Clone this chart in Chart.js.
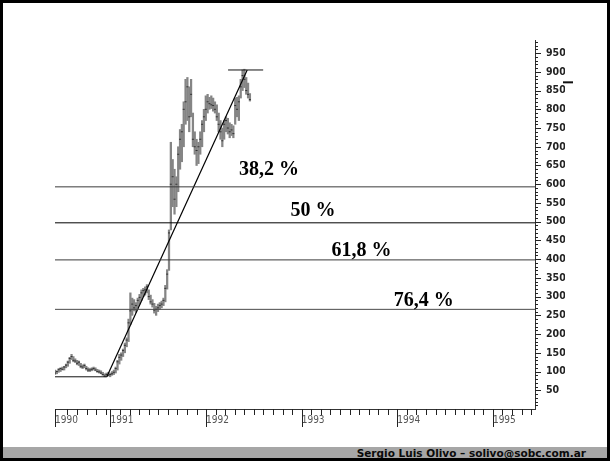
<!DOCTYPE html>
<html>
<head>
<meta charset="utf-8">
<title>Retrocesos de Fibonacci</title>
<script src="https://cdn.jsdelivr.net/npm/chart.js@4.4.1/dist/chart.umd.min.js"></script>
<style>
  html, body { margin: 0; padding: 0; background: #fff; }
  #slide { position: relative; width: 610px; height: 461px; overflow: hidden; background: #fff; }
  #chart { position: absolute; left: 0; top: 0; }
  #footer {
    position: absolute; left: 0; right: 0; top: 447px; height: 12px;
    background: #a6a6a6; color: #0a0a0a; text-align: right; padding-right: 24px;
    font: bold 10.5px "DejaVu Sans", Verdana, sans-serif; line-height: 12px; white-space: nowrap;
  }
  #frame { position: absolute; inset: 0; border: 3px solid #000; box-sizing: border-box; pointer-events: none; }
</style>
</head>
<body>
<div id="slide">
  <canvas id="chart" width="610" height="461"></canvas>
  <div id="footer">Sergio Luis Olivo – solivo@sobc.com.ar</div>
  <div id="frame"></div>
</div>
<script>
// --- data (weekly bars) ---
const firstWeek = 1990.42;           // decimal year of the first weekly bar
const weekLows = [
  92, 94, 98, 100, 104, 104, 110, 114, 122, 132,
  126, 124, 118, 116, 110, 108, 110, 104, 100, 100,
  102, 104, 102, 98, 96, 94, 90, 86, 86, 88,
  86, 90, 92, 96, 104, 120, 130, 140, 150, 166,
  180, 226, 250, 262, 258, 270, 280, 290, 300, 304,
  310, 292, 280, 272, 256, 250, 260, 266, 270, 276,
  286, 320, 370, 478, 540, 520, 540, 580, 640, 660,
  700, 760, 770, 740, 780, 700, 680, 650, 655, 680,
  700, 740, 770, 790, 800, 802, 795, 790, 770, 740,
  720, 700, 720, 740, 734, 724, 730, 724, 760, 780,
  770, 830, 850, 858, 840, 830, 822
];
const weekHighs = [
  104, 102, 108, 110, 112, 114, 120, 128, 138, 146,
  140, 134, 130, 128, 122, 118, 120, 114, 110, 108,
  110, 112, 110, 106, 104, 102, 98, 94, 96, 98,
  96, 100, 104, 112, 130, 146, 150, 160, 176, 190,
  240, 310, 296, 292, 284, 296, 306, 318, 322, 326,
  332, 318, 304, 292, 282, 274, 280, 284, 288, 296,
  330, 372, 478, 712, 666, 640, 620, 700, 746, 760,
  820, 880, 885, 860, 880, 790, 740, 720, 712, 740,
  770, 800, 836, 840, 832, 836, 830, 820, 812, 790,
  770, 750, 770, 780, 776, 764, 760, 756, 830, 832,
  836, 880, 905, 907, 885, 870, 842
];
const weekCloses = [
  96, 100, 105, 108, 106, 112, 117, 125, 135, 140,
  130, 128, 122, 125, 114, 112, 116, 108, 104, 104,
  106, 108, 104, 100, 99, 96, 92, 88, 92, 90,
  92, 94, 98, 108, 126, 138, 144, 156, 170, 184,
  230, 262, 280, 270, 276, 290, 298, 310, 316, 318,
  326, 300, 286, 280, 264, 266, 270, 276, 280, 290,
  322, 360, 470, 600, 620, 560, 600, 680, 720, 740,
  800, 820, 860, 780, 840, 720, 700, 690, 700, 720,
  760, 780, 800, 820, 815, 812, 810, 800, 780, 760,
  740, 716, 760, 770, 750, 740, 745, 735, 810, 800,
  820, 860, 890, 880, 850, 840, 826
];
const years = [1990, 1991, 1992, 1993, 1994, 1995];
const fibLevels = [593, 497, 398, 266];
const fibLabels = ['38,2 %', '50 %', '61,8 %', '76,4 %'];
const trendStart = { x: 1990.962, y: 86 };
const trendEnd = { x: 1992.43, y: 905 };
const lowLine = [1990.42, 1990.962];   // bottom reference line span
const topLine = [1992.23, 1992.597];   // top reference line span
const lastMark = 872;

// --- layout ---
const xMin = 1990.42, xMax = 1995.44;
const labelAt = [[1992.345, 638], [1992.883, 530], [1993.313, 423], [1993.963, 289]];
const fibColors = ['#3a3a3a', '#000', '#3a3a3a', '#4a4a4a'];

const xTicks = [xMin, 1990.55, 1990.65, 1990.75, 1990.85, 1990.95];
for (let yr = 1991; yr <= 1995; yr++) {
  for (let k = 0; k < 10; k++) {
    const v = +(yr + k / 10).toFixed(2);
    if (v < xMax) xTicks.push(v);
  }
}
const isYearTick = v => v === xMin || Number.isInteger(v);

function hLine(y, x0, x1, color, width) {
  return {
    type: 'line', data: [{ x: x0, y: y }, { x: x1, y: y }],
    borderColor: color, borderWidth: width, pointRadius: 0, order: 0
  };
}

const datasets = [
  {
    type: 'bar',
    data: weekLows.map((lo, i) => ({ x: firstWeek + i / 52, y: [lo, weekHighs[i]] })),
    backgroundColor: '#858585', barThickness: 1.6, order: 3
  },
  {
    type: 'line', showLine: false,
    data: weekCloses.map((c, i) => ({ x: firstWeek + i / 52, y: c })),
    pointStyle: 'line', pointRadius: 1, borderColor: '#333', borderWidth: 1, order: 2
  }
];
fibLevels.forEach((lvl, i) => datasets.push(hLine(lvl, xMin, xMax, fibColors[i], 1)));
datasets.push(hLine(trendStart.y, lowLine[0], lowLine[1], '#111', 1));
datasets.push(hLine(trendEnd.y, topLine[0], topLine[1], '#111', 1));
datasets.push({
  type: 'line', data: [trendStart, trendEnd],
  borderColor: '#000', borderWidth: 1.2, pointRadius: 0, order: 0
});

// tick marks: long at years / labelled prices, short in between
const tickMarks = {
  id: 'tickMarks',
  afterDraw(chart) {
    const { ctx, scales: { x, y } } = chart;
    ctx.save();
    ctx.strokeStyle = '#222';
    ctx.lineWidth = 1;
    ctx.beginPath();
    x.ticks.forEach(t => {
      const px = Math.round(x.getPixelForValue(t.value)) + 0.5;
      ctx.moveTo(px, x.top);
      ctx.lineTo(px, x.top + (isYearTick(t.value) ? 18 : 6));
    });
    y.ticks.forEach(t => {
      const py = Math.round(y.getPixelForValue(t.value)) + 0.5;
      ctx.moveTo(y.left, py);
      ctx.lineTo(y.left + (t.value % 50 === 0 ? 6 : 3), py);
    });
    ctx.stroke();
    ctx.restore();
  }
};

const fibText = {
  id: 'fibText',
  afterDatasetsDraw(chart) {
    const { ctx, scales: { x, y } } = chart;
    ctx.save();
    ctx.font = 'bold 20px "Liberation Serif", "Times New Roman", serif';
    ctx.fillStyle = '#000';
    ctx.textBaseline = 'middle';
    fibLabels.forEach((t, i) => {
      ctx.fillText(t, x.getPixelForValue(labelAt[i][0]), y.getPixelForValue(labelAt[i][1]));
    });
    // last price mark beside the price axis
    ctx.fillStyle = '#111';
    ctx.fillRect(y.left + 28, y.getPixelForValue(lastMark) - 1, 10, 2);
    ctx.restore();
  }
};

const narrow = '"Liberation Sans Narrow", "Arial Narrow", "DejaVu Sans Condensed", sans-serif';

new Chart(document.getElementById('chart'), {
  type: 'bar',
  data: { datasets },
  plugins: [fibText, tickMarks],
  options: {
    responsive: false,
    animation: false,
    devicePixelRatio: 1,
    layout: { padding: { left: 55, top: 40, right: 45, bottom: 30 } },
    plugins: { legend: { display: false }, tooltip: { enabled: false } },
    scales: {
      x: {
        type: 'linear', position: 'bottom', min: xMin, max: xMax, offset: false,
        afterBuildTicks: s => { s.ticks = xTicks.map(v => ({ value: v })); },
        afterFit: s => { s.height = 22; },
        ticks: {
          autoSkip: false, maxRotation: 0, align: 'start', padding: 0, color: '#555',
          font: { family: narrow, size: 10 },
          callback: v => (v === xMin ? String(years[0]) : Number.isInteger(v) ? String(v) : '')
        },
        grid: { offset: false, drawOnChartArea: false, tickLength: 5, tickColor: 'rgba(0,0,0,0)' },
        border: { color: '#333', width: 1 }
      },
      y: {
        type: 'linear', position: 'right', min: 0, max: 985,
        afterBuildTicks: s => {
          const t = [];
          for (let v = 10; v <= 980; v += 10) t.push({ value: v });
          s.ticks = t;
        },
        afterFit: s => { s.width = 30; },
        ticks: {
          autoSkip: false, padding: 8, color: '#222',
          font: { family: narrow, size: 10.5, weight: 'bold' },
          callback: v => (v % 50 === 0 ? String(v) : '')
        },
        grid: { drawOnChartArea: false, tickLength: 3, tickColor: 'rgba(0,0,0,0)' },
        border: { color: '#333', width: 1 }
      }
    }
  }
});
</script>
</body>
</html>
